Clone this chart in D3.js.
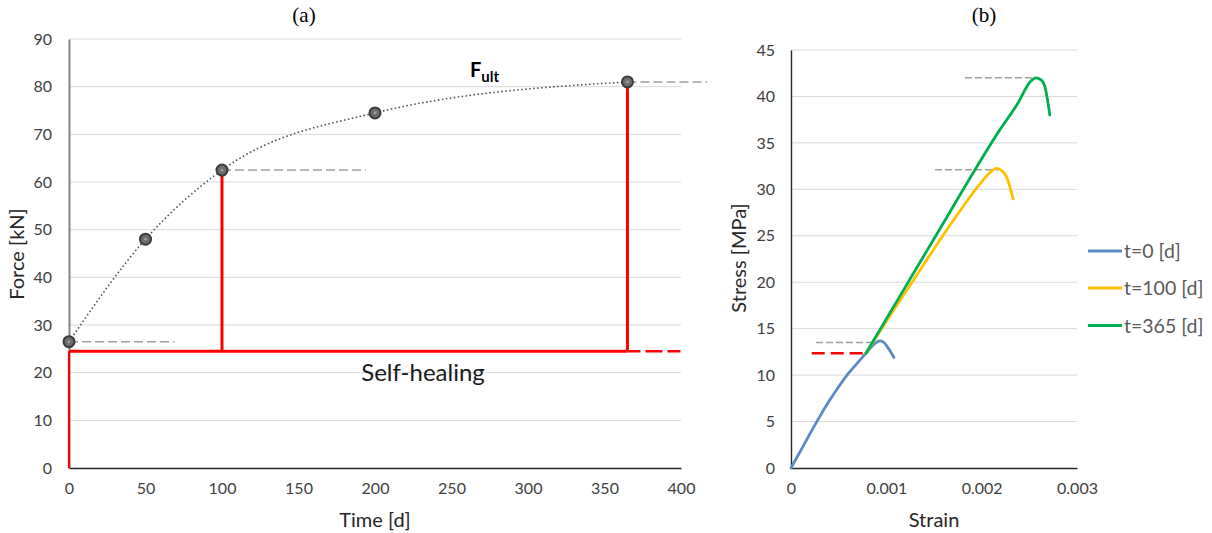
<!DOCTYPE html>
<html>
<head>
<meta charset="utf-8">
<script src="https://cdn.jsdelivr.net/npm/d3@7"></script>
<style>
  html, body { margin: 0; padding: 0; background: #fff; }
  svg { display: block; font-family: Lato, "Open Sans", sans-serif; }
</style>
</head>
<body>
<svg id="chart" width="1212" height="533"></svg>
<script>
// ---------- Panel (a): ultimate force over time ----------
const days = [0, 50, 100, 200, 365];
const forceKN = [26.5, 48, 62.5, 74.5, 81];
const forceTicks = [0, 10, 20, 30, 40, 50, 60, 70, 80, 90];
const timeTicks = [0, 50, 100, 150, 200, 250, 300, 350, 400];
const healingLevel = 24.5;          // kN, self-healing threshold
const healingStops = [100, 365];    // days at which the bars rise to the curve
// horizontal guides: [start day, end day, force]
const forceGuides = [[0, 69, 26.5], [100, 194, 62.5], [365, 417, 81]];

// ---------- Panel (b): stress-strain curves ----------
const strainT0 = [0, 0.0001, 0.0002, 0.0003, 0.0004, 0.0005, 0.0006, 0.0007, 0.000786, 0.00085, 0.0009, 0.00093, 0.00097, 0.00102, 0.00108];
const stressT0 = [0, 1.85, 3.7, 5.5, 7.2, 8.75, 10.15, 11.35, 12.35, 13.1, 13.55, 13.68, 13.55, 12.9, 11.9];
const strainT100 = [0.000786, 0.00095, 0.00127, 0.001632, 0.002016, 0.002086, 0.002156, 0.00219, 0.00226, 0.00233];
const stressT100 = [12.35, 15.0, 20.0, 25.6, 31.0, 31.8, 32.25, 32.15, 31.36, 28.96];
const strainT365 = [0.000786, 0.0012, 0.0016, 0.0019, 0.00219, 0.00237, 0.00252, 0.002568, 0.00262, 0.002663, 0.002715];
const stressT365 = [12.35, 19.5, 26.4, 31.6, 36.4, 39.1, 41.7, 42.0, 41.8, 41.05, 38.0];
const seriesNames = ["t=0 [d]", "t=100 [d]", "t=365 [d]"];
const seriesColors = ["#5b8ac9", "#ffc000", "#00b050"];
const stressTicks = [0, 5, 10, 15, 20, 25, 30, 35, 40, 45];
const strainTicks = [0, 0.001, 0.002, 0.003];
// peak guides: [start strain, end strain, stress]
const peakGuides = [[0.000262, 0.00092, 13.5], [0.00151, 0.00218, 32.1], [0.001824, 0.00257, 42.0]];
const healingGuide = [0.000217, 0.000786, 12.35];

const svg = d3.select("#chart");
const defs = svg.append("defs");
defs.append("filter").attr("id", "soft")
  .append("feGaussianBlur").attr("stdDeviation", 0.7);

const tickColor = "#404040";
const titleColor = "#262626";
const gridColor = "#d9d9d9";
const tickFont = "16px";

// ================= Panel (a) =================
const xa = d3.scaleLinear().domain([0, 400]).range([69, 681]);
const ya = d3.scaleLinear().domain([0, 90]).range([468, 39]);
const ga = svg.append("g");

// gridlines
ga.append("g").selectAll("line").data(forceTicks.filter(d => d > 0)).join("line")
  .attr("x1", xa(0)).attr("x2", xa(400))
  .attr("y1", d => ya(d)).attr("y2", d => ya(d))
  .attr("stroke", gridColor).attr("stroke-width", 1);

// axes
const axYa = ga.append("g").attr("transform", `translate(${xa(0)},0)`)
  .call(d3.axisLeft(ya).tickValues(forceTicks).tickSize(0).tickPadding(17));
axYa.select(".domain").attr("stroke", "#868686").attr("stroke-width", 2);
const axXa = ga.append("g").attr("transform", `translate(0,${ya(0)})`)
  .call(d3.axisBottom(xa).tickValues(timeTicks).tickSize(0).tickPadding(15));
axXa.select(".domain").attr("stroke", "#262626").attr("stroke-width", 1.3);
[axYa, axXa].forEach(ax => ax.selectAll("text")
  .attr("fill", tickColor).style("font-size", tickFont).style("font-family", "Lato, sans-serif"));

// self-healing threshold outline
const red = "#ff0000";
ga.append("line")
  .attr("x1", xa(0)).attr("x2", xa(0)).attr("y1", ya(0)).attr("y2", ya(healingLevel))
  .attr("stroke", red).attr("stroke-width", 2.2);
ga.append("line")
  .attr("x1", xa(0)).attr("x2", xa(healingStops[1])).attr("y1", ya(healingLevel)).attr("y2", ya(healingLevel))
  .attr("stroke", red).attr("stroke-width", 3);
ga.append("line")
  .attr("x1", xa(healingStops[1])).attr("x2", xa(400)).attr("y1", ya(healingLevel)).attr("y2", ya(healingLevel))
  .attr("stroke", red).attr("stroke-width", 2.5).attr("stroke-dasharray", "13 5 17 5");
healingStops.forEach(t => {
  const i = days.indexOf(t);
  ga.append("line")
    .attr("x1", xa(t)).attr("x2", xa(t)).attr("y1", ya(healingLevel)).attr("y2", ya(forceKN[i]))
    .attr("stroke", red).attr("stroke-width", 3);
});

// horizontal guides
ga.append("g").selectAll("line").data(forceGuides).join("line")
  .attr("x1", d => xa(d[0])).attr("x2", d => xa(d[1]))
  .attr("y1", d => ya(d[2])).attr("y2", d => ya(d[2]))
  .attr("stroke", "#a0a0a0").attr("stroke-width", 1.5).attr("stroke-dasharray", "9 4");

// dotted trend through the measurements
const pts = days.map((d, i) => [d, forceKN[i]]);
ga.append("path")
  .attr("d", d3.line().x(d => xa(d[0])).y(d => ya(d[1])).curve(d3.curveMonotoneX)(pts))
  .attr("fill", "none").attr("stroke", "#595959").attr("stroke-width", 1.6)
  .attr("stroke-dasharray", "1.6 2.4");

// markers
const mk = ga.append("g").attr("filter", "url(#soft)");
mk.selectAll("circle.o").data(pts).join("circle").attr("class", "o")
  .attr("cx", d => xa(d[0])).attr("cy", d => ya(d[1])).attr("r", 5.5)
  .attr("fill", "#6e6e6e").attr("stroke", "#3a3a3a").attr("stroke-width", 2);
mk.selectAll("circle.i").data(pts).join("circle").attr("class", "i")
  .attr("cx", d => xa(d[0])).attr("cy", d => ya(d[1])).attr("r", 1.3)
  .attr("fill", "#a0a0a0");

// labels
ga.append("text").attr("x", 470).attr("y", 77)
  .attr("font-weight", "bold").attr("font-size", 20).attr("fill", "#000")
  .text("F").append("tspan").attr("font-size", 15).attr("dy", 5).text("ult");
ga.append("text").attr("x", 423).attr("y", 381).attr("text-anchor", "middle")
  .attr("font-size", 24).attr("fill", "#1a1a1a").text("Self-healing");
ga.append("text").attr("x", 375).attr("y", 527).attr("text-anchor", "middle")
  .attr("font-size", 20).attr("fill", titleColor).text("Time [d]");
ga.append("text").attr("transform", "translate(24,254) rotate(-90)").attr("text-anchor", "middle")
  .attr("font-size", 20).attr("fill", titleColor).text("Force [kN]");
ga.append("text").attr("x", 304).attr("y", 22).attr("text-anchor", "middle")
  .attr("font-family", "'Liberation Serif', serif").attr("font-size", 21).attr("fill", "#000").text("(a)");

// ================= Panel (b) =================
const xb = d3.scaleLinear().domain([0, 0.003]).range([791, 1077]);
const yb = d3.scaleLinear().domain([0, 45]).range([468, 50]);
const gb = svg.append("g");

gb.append("g").selectAll("line").data(stressTicks.filter(d => d > 0)).join("line")
  .attr("x1", xb(0)).attr("x2", xb(0.003))
  .attr("y1", d => yb(d)).attr("y2", d => yb(d))
  .attr("stroke", gridColor).attr("stroke-width", 1);

const axYb = gb.append("g").attr("transform", `translate(${xb(0)},0)`)
  .call(d3.axisLeft(yb).tickValues(stressTicks).tickSize(0).tickPadding(16));
axYb.select(".domain").attr("stroke", "#262626").attr("stroke-width", 1.4);
const axXb = gb.append("g").attr("transform", `translate(0,${yb(0)})`)
  .call(d3.axisBottom(xb).tickValues(strainTicks).tickSize(0).tickPadding(15)
    .tickFormat(d => d === 0 ? "0" : d3.format(".3f")(d)));
axXb.select(".domain").attr("stroke", "#262626").attr("stroke-width", 1.4);
[axYb, axXb].forEach(ax => ax.selectAll("text")
  .attr("fill", tickColor).style("font-size", tickFont).style("font-family", "Lato, sans-serif"));

// peak and healing guides
gb.append("g").selectAll("line").data(peakGuides).join("line")
  .attr("x1", d => xb(d[0])).attr("x2", d => xb(d[1]))
  .attr("y1", d => yb(d[2])).attr("y2", d => yb(d[2]))
  .attr("stroke", "#a0a0a0").attr("stroke-width", 1.5).attr("stroke-dasharray", "7 3");
gb.append("line")
  .attr("x1", xb(healingGuide[0])).attr("x2", xb(healingGuide[1]))
  .attr("y1", yb(healingGuide[2])).attr("y2", yb(healingGuide[2]))
  .attr("stroke", red).attr("stroke-width", 2.5).attr("stroke-dasharray", "13 6");

// curves
const curves = [
  [strainT0, stressT0],
  [strainT100, stressT100],
  [strainT365, stressT365]
];
const lineB = d3.line().x(d => xb(d[0])).y(d => yb(d[1])).curve(d3.curveMonotoneX);
curves.forEach((c, k) => {
  const data = c[0].map((s, i) => [s, c[1][i]]);
  gb.append("path").attr("d", lineB(data))
    .attr("fill", "none").attr("stroke", seriesColors[k]).attr("stroke-width", 2.8)
    .attr("stroke-linejoin", "round").attr("stroke-linecap", "round");
});

// legend
const legendY = [251, 288, 325.5];
seriesNames.forEach((n, k) => {
  gb.append("line").attr("x1", 1088).attr("x2", 1122).attr("y1", legendY[k]).attr("y2", legendY[k])
    .attr("stroke", seriesColors[k]).attr("stroke-width", 2.8);
  gb.append("text").attr("x", 1124).attr("y", legendY[k] + 7)
    .attr("font-size", 19.5).attr("fill", "#595959").text(n);
});

gb.append("text").attr("x", 934).attr("y", 527).attr("text-anchor", "middle")
  .attr("font-size", 20).attr("fill", titleColor).text("Strain");
gb.append("text").attr("transform", "translate(746,258) rotate(-90)").attr("text-anchor", "middle")
  .attr("font-size", 20).attr("fill", titleColor).text("Stress [MPa]");
gb.append("text").attr("x", 984).attr("y", 22).attr("text-anchor", "middle")
  .attr("font-family", "'Liberation Serif', serif").attr("font-size", 21).attr("fill", "#000").text("(b)");
</script>
</body>
</html>
